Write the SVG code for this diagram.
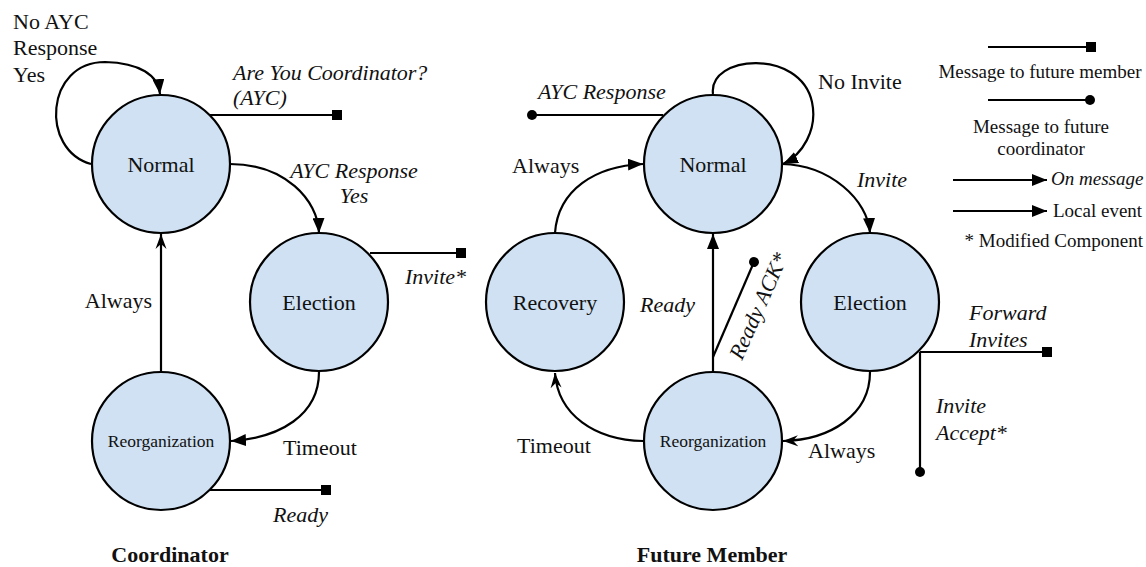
<svg xmlns="http://www.w3.org/2000/svg" width="1146" height="567" viewBox="0 0 1146 567">
<style>
text{font-family:"Liberation Serif","Times New Roman",serif;font-size:22px;fill:#111}
.it{font-style:italic}
.b{font-weight:bold}
.sm{font-size:17.5px}
.lg{font-size:19px}
.st{fill:#cfe1f2;stroke:#000;stroke-width:2.2}
.c{fill:none;stroke:#000;stroke-width:2.2}
</style>
<defs>
<marker id="tri" markerUnits="userSpaceOnUse" markerWidth="16" markerHeight="12" refX="15" refY="6" orient="auto"><path d="M0,0 L15,6 L0,12 z" fill="#000"/></marker>
<marker id="stl" markerUnits="userSpaceOnUse" markerWidth="16" markerHeight="12" refX="15" refY="6" orient="auto"><path d="M0,0.5 L15,6 L0,11.5 L5,6 z" fill="#000"/></marker>
<marker id="sq" markerUnits="userSpaceOnUse" markerWidth="12" markerHeight="12" refX="1" refY="6" orient="auto"><rect x="0" y="1" width="10" height="10" fill="#000"/></marker>
<marker id="dot" markerUnits="userSpaceOnUse" markerWidth="12" markerHeight="12" refX="6" refY="6" orient="auto"><circle cx="6" cy="6" r="5" fill="#000"/></marker>
</defs>

<g id="connectors">
<!-- Coordinator -->
<path class="c" d="M91,164 C40,150 45,62 105,62 C140,63 158,75 160,94" marker-end="url(#tri)"/>
<path class="c" d="M230,164 C285,164 318,200 319,233" marker-end="url(#tri)"/>
<path class="c" d="M319,372 C319,415 280,438 231,441" marker-end="url(#tri)"/>
<path class="c" d="M161,372 L161,234" marker-end="url(#stl)"/>
<path class="c" d="M210,115 L333,115" marker-end="url(#sq)"/>
<path class="c" d="M370,253 L457,253" marker-end="url(#sq)"/>
<path class="c" d="M210,490 L322,490" marker-end="url(#sq)"/>
<!-- Future member -->
<path class="c" d="M713,94 C708,55 800,48 812,102 C818,130 802,155 783,164" marker-end="url(#tri)"/>
<path class="c" d="M555,233 C558,190 595,166 643,164" marker-end="url(#tri)"/>
<path class="c" d="M782,164 C830,165 868,200 870,233" marker-end="url(#tri)"/>
<path class="c" d="M713,372 L713,234" marker-end="url(#tri)"/>
<path class="c" d="M643,441 C595,440 558,415 555,373" marker-end="url(#stl)"/>
<path class="c" d="M870,372 C870,415 830,440 783,441" marker-end="url(#stl)"/>
<path class="c" d="M663,115 L532,115" marker-end="url(#dot)"/>
<path class="c" d="M713,357 L754,262" marker-end="url(#dot)"/>
<path class="c" d="M920,352 L1043,352" marker-end="url(#sq)"/>
<path class="c" d="M920,352 L920,472" marker-end="url(#dot)"/>
<!-- Legend -->
<path class="c" d="M988,47 L1087,47" marker-end="url(#sq)"/>
<path class="c" d="M988,100 L1090,100" marker-end="url(#dot)"/>
<path class="c" d="M953,180 L1047,180" marker-end="url(#tri)"/>
<path class="c" d="M953,211 L1047,211" marker-end="url(#tri)"/>
</g>

<g id="coord-normal"><circle class="st" cx="161" cy="164" r="69"/><text x="161" y="172" text-anchor="middle">Normal</text></g>
<g id="coord-election"><circle class="st" cx="319" cy="302" r="69"/><text x="319" y="310" text-anchor="middle">Election</text></g>
<g id="coord-reorg"><circle class="st" cx="161" cy="441" r="69"/><text class="sm" x="161" y="447" text-anchor="middle">Reorganization</text></g>

<g id="fm-normal"><circle class="st" cx="713" cy="164" r="69"/><text x="713" y="172" text-anchor="middle">Normal</text></g>
<g id="fm-recovery"><circle class="st" cx="555" cy="302" r="69"/><text x="555" y="310" text-anchor="middle">Recovery</text></g>
<g id="fm-election"><circle class="st" cx="870" cy="302" r="69"/><text x="870" y="310" text-anchor="middle">Election</text></g>
<g id="fm-reorg"><circle class="st" cx="713" cy="441" r="69"/><text class="sm" x="713" y="447" text-anchor="middle">Reorganization</text></g>

<g id="labels">
<text x="13" y="29">No AYC</text>
<text x="13" y="55">Response</text>
<text x="13" y="82">Yes</text>
<text class="it" x="233" y="80">Are You Coordinator?</text>
<text class="it" x="233" y="105">(AYC)</text>
<text class="it" x="354" y="178" text-anchor="middle">AYC Response</text>
<text class="it" x="354" y="203" text-anchor="middle">Yes</text>
<text class="it" x="405" y="284">Invite*</text>
<text x="152" y="308" text-anchor="end">Always</text>
<text x="283" y="455">Timeout</text>
<text class="it" x="273" y="522">Ready</text>
<text class="b" x="170" y="562" text-anchor="middle">Coordinator</text>

<text class="it" x="538" y="99">AYC Response</text>
<text x="818" y="89">No Invite</text>
<text x="512" y="173">Always</text>
<text class="it" x="857" y="187">Invite</text>
<text class="it" x="640" y="312">Ready</text>
<text class="it" transform="translate(742,361) rotate(-66)">Ready ACK*</text>
<text x="517" y="453">Timeout</text>
<text x="808" y="458">Always</text>
<text class="it" x="969" y="320">Forward</text>
<text class="it" x="969" y="347">Invites</text>
<text class="it" x="936" y="413">Invite</text>
<text class="it" x="936" y="440">Accept*</text>
<text class="b" x="712" y="562" text-anchor="middle">Future Member</text>
</g>

<g id="legend">
<text class="lg" x="1040" y="78" text-anchor="middle">Message to future member</text>
<text class="lg" x="1041" y="133" text-anchor="middle">Message to future</text>
<text class="lg" x="1041" y="155" text-anchor="middle">coordinator</text>
<text class="lg it" x="1051" y="185">On message</text>
<text class="lg" x="1053" y="217">Local event</text>
<text class="lg" x="1143" y="247" text-anchor="end">* Modified Component</text>
</g>
</svg>
